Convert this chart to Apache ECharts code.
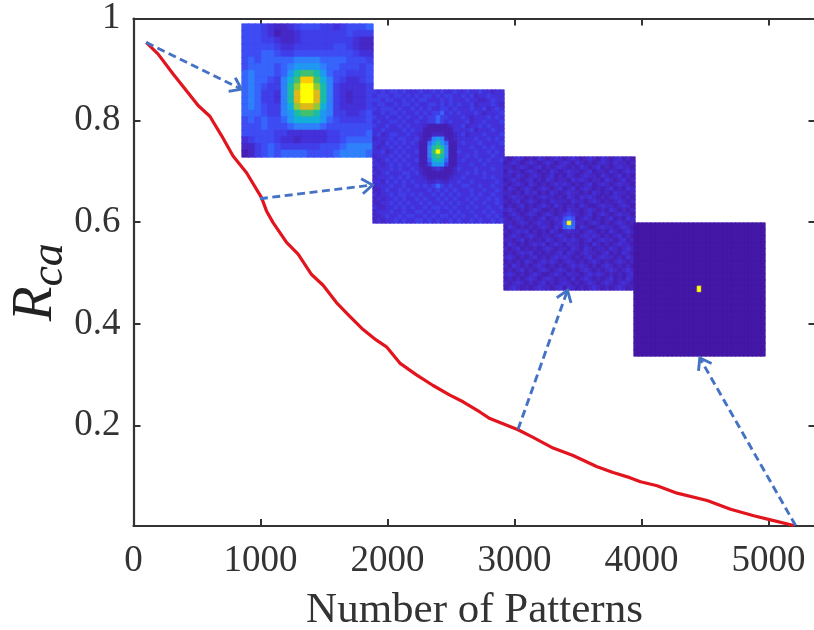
<!DOCTYPE html>
<html><head><meta charset="utf-8">
<style>html,body{margin:0;padding:0;background:#fff}#c{width:814px;height:630px}</style>
<script src="https://cdn.jsdelivr.net/npm/echarts@6/dist/echarts.min.js"></script>
</head><body><div id="c"></div>
<script>
const patternsX=[100,194,312,417,509,601,693,784,890,1008,1047,1099,1205,1296,1402,1493,1598,1703,1808,1913,1992,2097,2228,2359,2491,2595,2727,2806,3028,3146,3304,3461,3646,3776,3908,3992,4123,4280,4517,4701,4884,5016,5199];
const rcaY=[.953,.930,.891,.858,.829,.808,.770,.730,.697,.648,.622,.599,.560,.537,.497,.476,.442,.415,.389,.368,.355,.323,.300,.279,.260,.247,.227,.214,.192,.177,.156,.1415,.120,.108,.098,.090,.082,.0675,.053,.036,.023,.015,.004];
const xTicks=[0,1000,2000,3000,4000,5000];
const yTicks=[0.2,0.4,0.6,0.8,1];
const arrows=[[100,.953,850,.861],[995,.646,1882,.673],[3028,.193,3417,.466],[5213,.004,4459,.333]];
const levelColors=['#4417a6','#4620b4','#4528c6','#4430d8','#403ee8','#3d4cf3','#3764fb','#2f80fb','#1e98f0','#12b0d8','#18bca8','#40c070','#90c838','#e0b818','#ffcc00','#ffff00'];
const inset1=[
"55543223455544345556","55543122344444445444","55544322344444444322","55555433444444554322","55566544555555555433",
"565666 66777766 665554","566665 67888876 655545","676665 68abba86 554445","676654 79beeb97 543345","676544 7acffca7 433334",
"676443 7adffda7 432334","676443 7adffda7 432334","676544 79cddc97 433334","666544 78abba87 443345","565655 68999986 544445",
"555655 56777765 555555","555554 43333334 455556","345554 33233334 456666","224565 44444455 567777","124565 66665555 677776"];
const inset2=[
"43434434333 433434334 33433433233","34443443434 344343443 34342334333","44344334343 443334343 33433223433","34433434434 334434343 43342333432",
"43444343343 434334434 33343342343","33434434334 343446343 43334323334","43343343433 434464433 34323334343","34334434334 334464343 33423343334",
"43343343433 321111123 34233434333","33433334343 311111113 33342333433","34234433433 211222112 34233343334","23334344334 212787212 33334334343",
"33243434343 116 8a8 611 34333433334","32334343433 117 aba 711 33343343433","33423434334 117 bfb 711 43334334343","23334343433 117 aba 711 33434333433",
"32343434334 116 9a9 611 34333434334","33234343433 114 888 411 33343343333","23334343343 211 232 112 43334333433","32343334434 211 111 112 33434343333",
"23334343433 321 111 123 34333343433","33243434343 332 232 233 43343333343","23334334334 343 464 343 34433433433","22343343433 334 343 434 33343343343",
"32334344343 433 434 343 43343433433","23233434334 343 343 434 33434334343","22334343433 434 334 343 43343343343","32233434343 343 443 434 33434334334",
"23334334334 434 343 343 43343343433","22343343443 343 434 434 34334334343","23233434334 434 343 343 43343433434"];
const inset3=[
"2123212132 1232 123 2123 2132123121","1232123212 3212 321 3212 1232132212","2212321231 2123 212 1321 2312123221","1322123212 1321 232 2123 1221321232",
"2213212321 2312 132 1232 2132123121","1232123121 3212 213 2321 2213212312","2123213212 1232 321 2123 1232123221","1321232123 2123 123 1232 1212312132",
"2212132312 1321 232 2121 3212132212","1232212123 2212 132 1323 2121232121","2123123212 1322 213 2212 3212123212","1212312123 2132 122 1321 1232212321",
"2321212321 1212 132 2123 2121321212","1232123212 3212 343 2123 1232123221","2123212123 1232 565 1232 1212312132","2212321232 2123 6f6 2212 3212123212",
"1321212123 2132 676 1321 1232212321","2123231212 1321 232 2123 2121321232","1232123212 2123 212 1232 3212123121","2212312121 3212 323 2123 1232212312",
"1321212323 1232 132 2121 3212123221","2123121212 3212 213 2132 1221321232","1212323121 2123 132 1232 2123121321","2321212312 1232 321 2123 1232212132",
"1212132123 2321 232 1212 3212123212","2132121232 1212 123 2321 2123212121","1212312123 2123 212 1232 1212321232","2321212321 1232 132 2123 2321212123",
"1212123212 3212 213 1232 1212312132","2123212123 1212 321 2123 2123212321","1232121232 2123 132 1212 3212123212"];
const inset4=[
"0000000000 0000 000 0000 0000000000","0000000000 0000 000 0000 0000000000","0000000000 0000 000 0000 0000000000","0000000000 0000 000 0000 0000000000",
"0000000000 0000 000 0000 0000000000","0000000000 0000 000 0000 0000000000","0000000000 0000 000 0000 0000000000","0000000000 0000 000 0000 0000000000",
"0000000000 0000 000 0000 0000000000","0000000000 0000 000 0000 0000000000","0000000000 0000 0f0 0000 0000000000","0000000000 0000 000 0000 0000000000",
"0000000000 0000 000 0000 0000000000","0000000000 0000 000 0000 0000000000","0000000000 0000 000 0000 0000000000","0000000000 0000 000 0000 0000000000",
"0000000000 0000 000 0000 0000000000","0000000000 0000 000 0000 0000000000","0000000000 0000 000 0000 0000000000","0000000000 0000 000 0000 0000000000",
"0000000000 0000 000 0000 0000000000"];

const insets=[inset1,inset2,inset3,inset4];
const insetBoxes=[{left:242,top:24,width:131,height:133},{left:373,top:90,width:131,height:133},{left:504,top:157,width:131,height:133},{left:634,top:223,width:131,height:133}];
const SERIF='"Liberation Serif","Times New Roman",serif', INK='#333333', BLUE='#4472c4';
const cells=rows=>{const out=[];rows.forEach((r,j)=>[...r.replace(/ /g,'')].forEach((c,i)=>{
  const col=levelColors[parseInt(c,16)];
  out.push({value:[i,j,parseInt(c,16)],itemStyle:{color:col,borderColor:col,borderWidth:0.7}});
}));return out;};
const idx=n=>Array.from({length:n},(_,i)=>i);

const axisLine={onZero:false,lineStyle:{color:INK,width:2.2}};
const tick=(v)=>({show:true,inside:true,length:7,customValues:v,lineStyle:{color:INK,width:2}});
const xMax=5370,yMin=0.003,yMax=1;
const xAxes=[
 {type:'value',gridIndex:0,min:0,max:xMax,position:'bottom',axisLine,axisTick:tick(xTicks),splitLine:{show:false},
  axisLabel:{customValues:xTicks,margin:17,fontFamily:SERIF,fontSize:37,color:INK,formatter:v=>String(v)},
  name:'Number of Patterns',nameLocation:'middle',nameGap:63,nameTextStyle:{fontFamily:SERIF,fontSize:43,color:INK}},
 {type:'value',gridIndex:0,min:0,max:xMax,position:'top',axisLine,axisTick:tick(xTicks),axisLabel:{show:false},splitLine:{show:false}}];
const yAxes=[
 {type:'value',gridIndex:0,min:yMin,max:yMax,position:'left',axisLine,axisTick:tick(yTicks),splitLine:{show:false},
  axisLabel:{customValues:yTicks,margin:13,fontFamily:SERIF,fontSize:37,color:INK,formatter:v=>String(+v.toFixed(1))},
  name:'{r|R}{s|ca}',nameLocation:'middle',nameGap:61,nameRotate:90,nameMoveOverlap:false,
  nameTextStyle:{padding:[0,20,0,0],rich:{r:{fontFamily:SERIF,fontStyle:'italic',fontSize:57,color:'#222'},s:{fontFamily:SERIF,fontStyle:'italic',fontSize:46,color:'#222',padding:[26,0,0,0]}}}},
 {type:'value',gridIndex:0,min:yMin,max:yMax,position:'right',axisLine:{show:false,onZero:false},axisTick:tick(yTicks),axisLabel:{show:false},splitLine:{show:false}}];
const series=[];
insets.forEach((rows,k)=>{
  const g=k+1,nc=rows[0].replace(/ /g,'').length,nr=rows.length;
  xAxes.push({type:'category',gridIndex:g,data:idx(nc),show:false});
  yAxes.push({type:'category',gridIndex:g,data:idx(nr),inverse:true,show:false});
  series.push({type:'heatmap',xAxisIndex:g+1,yAxisIndex:g+1,data:cells(rows),z:k+1,progressive:0,emphasis:{disabled:true}});
});
series.push({type:'line',xAxisIndex:0,yAxisIndex:0,data:patternsX.map((x,i)=>[x,rcaY[i]]),showSymbol:false,z:10,
  lineStyle:{color:'#e2141e',width:3.2,join:'round'},clip:false});
series.push({type:'custom',xAxisIndex:0,yAxisIndex:0,data:arrows,z:11,clip:false,encode:{x:[0,2],y:[1,3]},
  renderItem:(p,api)=>{
    const a=api.coord([api.value(0),api.value(1)]),b=api.coord([api.value(2),api.value(3)]);
    const t=Math.atan2(b[1]-a[1],b[0]-a[0]),L=13,w=0.62;
    const s={stroke:BLUE,fill:null,lineWidth:2.9};
    const h=[[b[0]-L*Math.cos(t-w),b[1]-L*Math.sin(t-w)],b,[b[0]-L*Math.cos(t+w),b[1]-L*Math.sin(t+w)]];
    return {type:'group',children:[
      {type:'line',shape:{x1:a[0],y1:a[1],x2:b[0],y2:b[1]},style:{...s,lineDash:[8,4.5]}},
      {type:'polyline',shape:{points:h},style:s}]};
  }});

const chart=echarts.init(document.getElementById('c'),null,{renderer:'canvas'});
chart.setOption({animation:false,backgroundColor:'#fff',
  grid:[{left:133.5,top:18.5,width:682,height:507.5,outerBoundsMode:'none'},...insetBoxes.map(b=>({...b,outerBoundsMode:'none'}))],
  xAxis:xAxes,yAxis:yAxes,
  series});
</script></body></html>
